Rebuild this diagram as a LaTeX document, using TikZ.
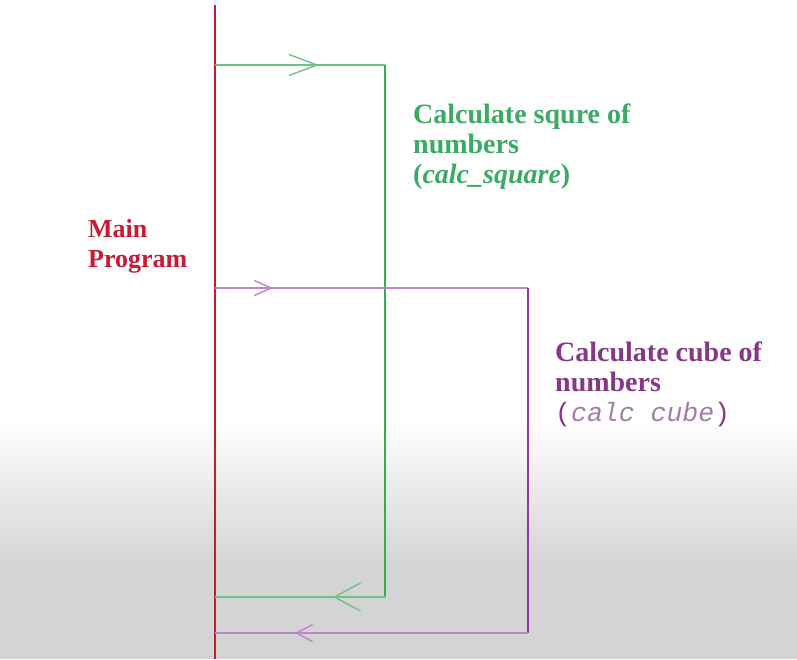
\documentclass[tikz,border=0pt]{standalone}
\usepackage{fontspec}
\setmainfont{Liberation Serif}
\setmonofont{Liberation Mono}
\usetikzlibrary{arrows.meta,decorations.markings}
\definecolor{mainred}{RGB}{200,25,55}
\definecolor{sqgreen}{RGB}{50,175,80}
\definecolor{sqgreenlt}{RGB}{110,195,130}
\definecolor{sqtext}{RGB}{60,170,100}
\definecolor{cbpurple}{RGB}{140,60,160}
\definecolor{cbpurplelt}{RGB}{185,135,200}
\definecolor{cbtext}{RGB}{135,55,135}
\definecolor{cbmono}{RGB}{160,125,170}
\definecolor{bggray}{RGB}{212,212,212}
\begin{document}
\begin{tikzpicture}[x=1pt,y=-1pt,
  lbl/.style={anchor=base west,inner sep=0pt,align=left,font=\fontsize{28}{30}\selectfont\bfseries},
  mainlbl/.style={lbl,font=\fontsize{26}{30}\selectfont\bfseries},
  mainline/.style={draw=mainred,line width=2.6pt},
  gvert/.style={draw=sqgreen,line width=2.6pt},
  ghor/.style={draw=sqgreenlt,line width=1.4pt},
  pvert/.style={draw=cbpurple,line width=2.4pt},
  phor/.style={draw=cbpurplelt,line width=1.4pt},
  tipat/.style args={#1 with #2}{postaction={decorate},decoration={markings,mark=at position #1 with {\arrow{#2}}}}
]
\useasboundingbox (0,0) rectangle (797,659);
% background
\fill[white] (0,0) rectangle (797,420);
\shade[top color=white,bottom color=bggray] (0,420) rectangle (797,565);
\fill[bggray] (0,565) rectangle (797,659);

% main program line
\coordinate (mtop) at (215,5);
\coordinate (mbot) at (215,659);
\draw[mainline] (mtop) -- (mbot);

% square routine
\coordinate (g1) at (215,65);
\coordinate (g2) at (385,65);
\coordinate (g3) at (385,597);
\coordinate (g4) at (215,597);
\draw[ghor,tipat={104pt with {Straight Barb[length=28pt,width=21pt]}}] (g1) -- (g2);
\draw[gvert] (g2) -- (g3);
\draw[ghor,tipat={52pt with {Straight Barb[length=26pt,width=28pt]}}] (g3) -- (g4);

% cube routine
\coordinate (p1) at (215,288);
\coordinate (p2) at (528,288);
\coordinate (p3) at (528,633);
\coordinate (p4) at (215,633);
\draw[phor,tipat={58pt with {Straight Barb[length=17pt,width=15pt]}}] (p1) -- (p2);
\draw[pvert] (p2) -- (p3);
\draw[phor,tipat={233pt with {Straight Barb[length=16pt,width=17pt]}}] (p3) -- (p4);

% labels (anchored at the baseline of the last line)
\node[mainlbl,text=mainred] (mainlbl) at (88,267) {Main\\Program};
\node[lbl,text=sqtext] (sqlbl) at (413,183) {Calculate squre of\\numbers\\(\textit{calc\_square})};
\node[lbl,text=cbtext] (cblbl) at (555,421) {Calculate cube of\\numbers\\{\mdseries\fontsize{26.5}{30}\selectfont\ttfamily(\textcolor{cbmono}{\itshape calc cube})}};
\end{tikzpicture}
\end{document}
